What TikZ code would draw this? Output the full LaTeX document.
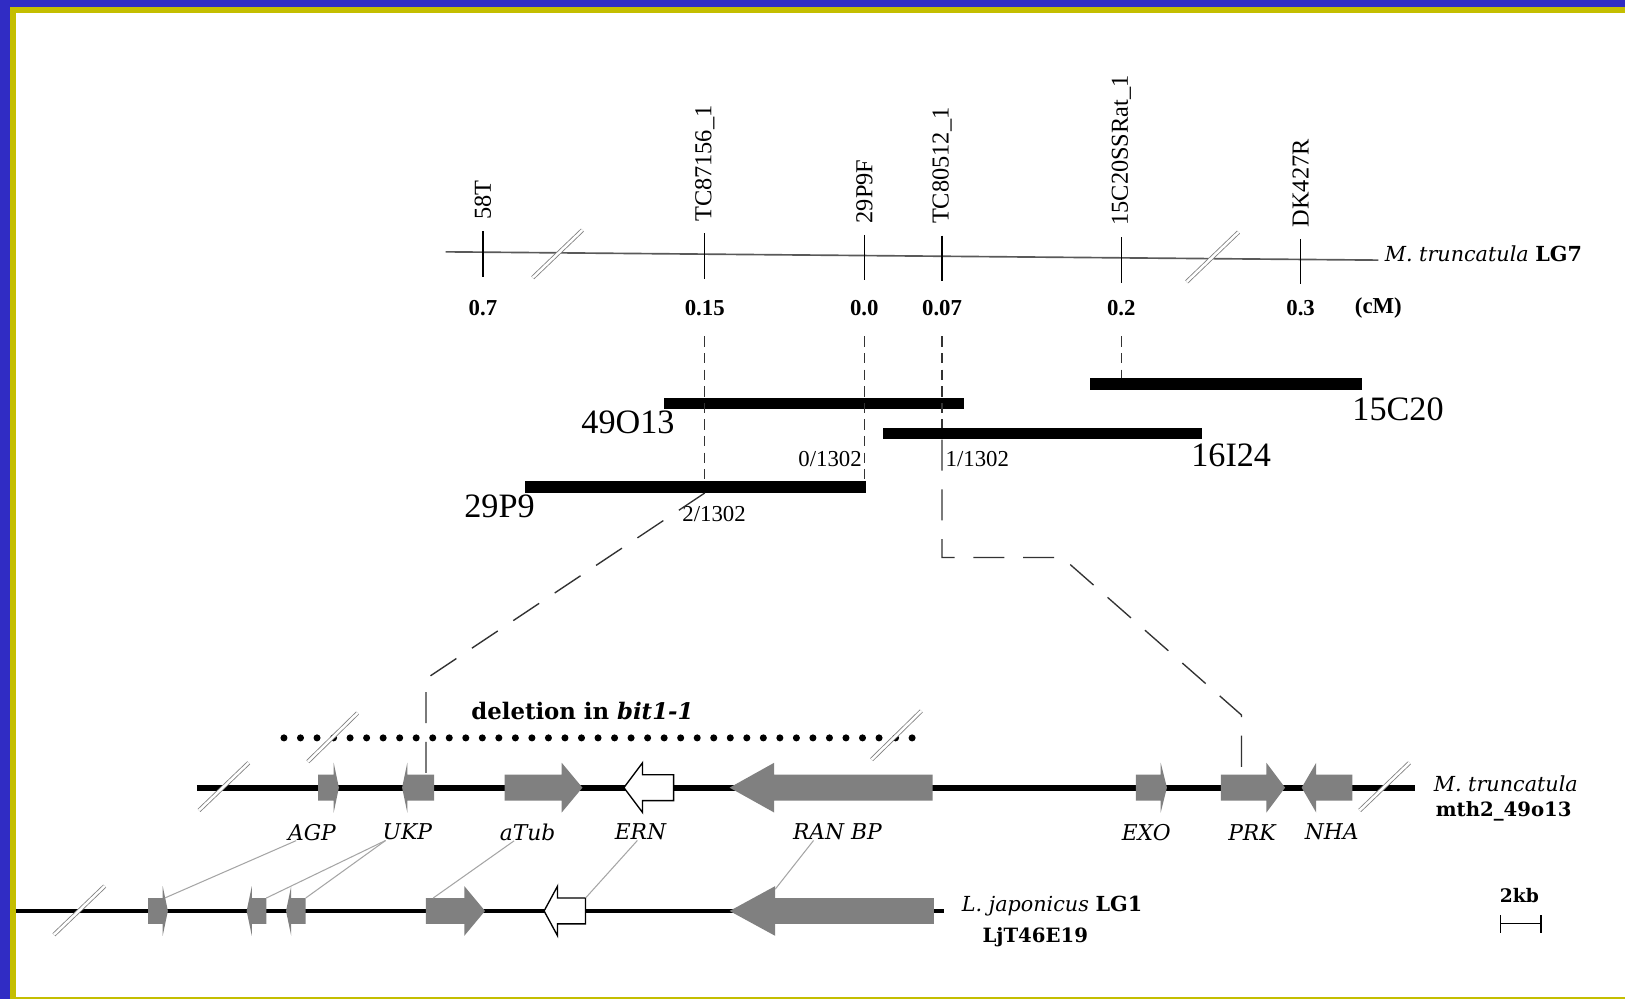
\documentclass[tikz,border=0pt]{standalone}
\usepackage{fontspec}
\setmainfont{Liberation Serif}
\newfontfamily\genefont{DejaVu Serif}
\usepackage{xcolor}
\usepackage{tikz}
\usetikzlibrary{positioning}
\definecolor{frameblue}{RGB}{48,44,196}
\definecolor{frameyellow}{RGB}{196,190,0}
\definecolor{genegray}{RGB}{128,128,128}
\definecolor{linkgray}{RGB}{165,165,165}

% gene arrow: [style]{tail x}{head base x}{tip x}{track y}
\newcommand{\genearrow}[5][genebox]{%
  \path[#1] (#2,#5-12.5) -- (#3,#5-12.5) -- (#3,#5-24) -- (#4,#5)
    -- (#3,#5+24) -- (#3,#5+12.5) -- (#2,#5+12.5) -- cycle;}

\begin{document}
\begin{tikzpicture}[
    x=1pt, y=-1pt,
    mkrlabel/.style={rotate=90, anchor=west, inner sep=0pt,
                     font=\fontsize{23.5}{24}\selectfont},
    cmval/.style={inner sep=0pt, font=\bfseries\fontsize{22}{23}\selectfont},
    bac/.style={fill=black, inner sep=0pt, minimum height=11pt},
    baclabel/.style={inner sep=0pt, font=\fontsize{33}{34}\selectfont},
    recomb/.style={inner sep=0pt, font=\fontsize{22}{23}\selectfont},
    genelabel/.style={inner sep=0pt, font=\genefont\itshape\fontsize{21}{22}\selectfont},
    sidelabel/.style={inner sep=0pt, font=\genefont\fontsize{20}{24}\selectfont},
    boldlabel/.style={inner sep=0pt, font=\genefont\bfseries\fontsize{19}{22}\selectfont},
    genebox/.style={fill=genegray},
    erngene/.style={fill=white, draw=black, line width=1.3pt},
    chrom/.style={line width=6pt},
    breakmark/.style={draw=gray, double=white, double distance=2.4pt, line width=0.8pt},
    tickdash/.style={draw=black!80, line width=1.2pt, dash pattern=on 10pt off 6pt},
    zoomdash/.style={draw=black!80, line width=1.3pt, dash pattern=on 30pt off 18pt},
    linkline/.style={draw=linkgray, line width=1pt},
  ]
  \useasboundingbox (0,0) rectangle (1568,964);
  \fill[white] (0,0) rectangle (1568,964);
  \fill[frameblue] (0,0) rectangle (1568,7);
  \fill[frameblue] (0,0) rectangle (9.6,964);
  \fill[frameyellow] (9.6,7) rectangle (1568,12.5);
  \fill[frameyellow] (9.6,12.5) rectangle (15.4,964);
  \fill[frameyellow] (15.4,962) rectangle (1568,964);

  % genetic map
  \draw[gray!70!black, line width=1.6pt] (430,243) -- (1330,251);
  \node[sidelabel, anchor=west] (lg7) at (1336,245) {{\itshape M. truncatula} \textbf{LG7}};
  \foreach \x/\mkr/\cm in {466/58T/0.7, 680/TC87156\_1/0.15, 834/29P9F/0.0,
      909/TC80512\_1/0.07, 1082/15C20SSRat\_1/0.2, 1255/DK427R/0.3}{
    \pgfmathsetmacro{\yy}{243+(\x-430)*0.009}
    \draw[line width=1.3pt] (\x,\yy-20) -- (\x,\yy+24);
    \node[mkrlabel] (mkr-\x) at (\x,\yy-31) {\mkr};
    \node[cmval] (cm-\x) at (\x,297) {\cm};
  }
  \node[cmval] (cmunit) at (1330,297) {(cM)};
  \draw[breakmark] (514,268) -- (562,222);
  \draw[breakmark] (1145,272) -- (1195,224);

  % BAC contig
  \node[bac, minimum width=262pt] (b15C20) at (1183,370.5) {};
  \node[bac, minimum width=289pt] (b49O13) at (785.5,389.5) {};
  \node[bac, minimum width=308pt] (b16I24) at (1006,418.5) {};
  \node[bac, minimum width=329pt] (b29P9) at (671,470) {};
  \node[baclabel] (l15C20) at (1349,395) {15C20};
  \node[baclabel] (l49O13) at (606,408) {49O13};
  \node[baclabel] (l16I24) at (1188,439) {16I24};
  \node[baclabel] (l29P9) at (482,489) {29P9};
  \node[recomb] (r0) at (801,443) {0/1302};
  \node[recomb] (r1) at (943,443) {1/1302};
  \node[recomb] (r2) at (689,496) {2/1302};
  \draw[tickdash] ([yshift=-20pt]cm-680.south) -- (cm-680.south |- b29P9.north);
  \draw[tickdash] ([yshift=-20pt]cm-834.south) -- (cm-834.south |- b29P9.north);
  \draw[tickdash] ([yshift=-20pt]cm-909.south) -- (cm-909.south |- b16I24.north);
  \draw[tickdash] ([yshift=-20pt]cm-1082.south) -- (cm-1082.south |- b15C20.north);

  % M. truncatula sequence
  \coordinate (ukp-top) at (411,747);
  \coordinate (prk-top) at (1198,747);
  \draw[zoomdash] (b29P9.south -| cm-680) -- (411,655) -- (ukp-top);
  \draw[zoomdash] (b16I24.south -| cm-909) -- (909,538) -- (1025,538) -- (1198,690) -- (prk-top);
  \node[inner sep=0pt, font=\genefont\bfseries\fontsize{22}{24}\selectfont] (del) at (562,686)
    {deletion in \textit{bit1-1}};
  \foreach \i in {0,...,38} \fill (274+\i*15.95,712) circle (3.4pt);
  \draw[breakmark] (297,735) -- (345,688);
  \draw[breakmark] (841,733) -- (889,686);

  \draw[chrom] (190,760) -- (1365,760);
  \genearrow{307}{322}{327}{760}
  \genearrow{419}{393}{388}{760}
  \genearrow{487}{542}{562}{760}
  \genearrow[erngene]{650}{620}{602}{760}
  \genearrow{900}{747}{704}{760}
  \genearrow{1096}{1120}{1126}{760}
  \genearrow{1178}{1222}{1240}{760}
  \genearrow{1305}{1270}{1256}{760}
  \draw[breakmark] (192,782) -- (240,736);
  \draw[breakmark] (1312,782) -- (1360,736);
  \node[genelabel] (gl-AGP) at (301,803) {AGP};
  \node[genelabel] (gl-UKP) at (393,803) {UKP};
  \node[genelabel] (gl-aTub) at (509,803) {aTub};
  \node[genelabel] (gl-ERN) at (618,803) {ERN};
  \node[genelabel] (gl-RANBP) at (808,803) {RAN BP};
  \node[genelabel] (gl-EXO) at (1106,803) {EXO};
  \node[genelabel] (gl-PRK) at (1208,803) {PRK};
  \node[genelabel] (gl-NHA) at (1285,803) {NHA};
  \node[sidelabel] (mt) at (1453,756) {\itshape M. truncatula};
  \node[boldlabel] (mth) at (1451,783) {mth2\_49o13};

  % L. japonicus sequence
  \draw[chrom, line width=4.5pt] (15,879) -- (911,879);
  \genearrow{143}{157}{162}{879}
  \genearrow{257}{243}{238}{879}
  \genearrow{295}{281}{276}{879}
  \genearrow{411}{448}{468}{879}
  \genearrow[erngene]{565}{538}{525}{879}
  \genearrow{901}{748}{704}{879}
  \draw[breakmark] (52,902) -- (101,855);
  \coordinate (lj-AGP) at (159,866.5);
  \coordinate (lj-UKP1) at (257,866.5);
  \coordinate (lj-UKP2) at (295,866.5);
  \coordinate (lj-aTub) at (418,866.5);
  \coordinate (lj-ERN) at (565,866.5);
  \coordinate (lj-RANBP) at (748,858);
  \draw[linkline] ([xshift=8pt]gl-AGP.south west) -- (lj-AGP);
  \draw[linkline] ([xshift=3pt]gl-UKP.south west) -- (lj-UKP1);
  \draw[linkline] ([xshift=3pt]gl-UKP.south west) -- (lj-UKP2);
  \draw[linkline] ([xshift=14pt]gl-aTub.south west) -- (lj-aTub);
  \draw[linkline] ([xshift=-3pt]gl-ERN.south) -- (lj-ERN);
  \draw[linkline] ([xshift=20pt]gl-RANBP.south west) -- (lj-RANBP);
  \node[sidelabel, anchor=west] (lj) at (928,874) {{\itshape L. japonicus} \textbf{LG1}};
  \node[boldlabel] (ljt) at (999,904) {LjT46E19};

  \node[boldlabel, font=\genefont\bfseries\fontsize{18}{20}\selectfont] (kb) at (1466,864) {2kb};
  \draw[line width=1.5pt] (1448,891) -- (1487,891);
  \draw[line width=1.5pt] (1448,883) -- (1448,900);
  \draw[line width=1.5pt] (1487,883) -- (1487,900);
\end{tikzpicture}
\end{document}
